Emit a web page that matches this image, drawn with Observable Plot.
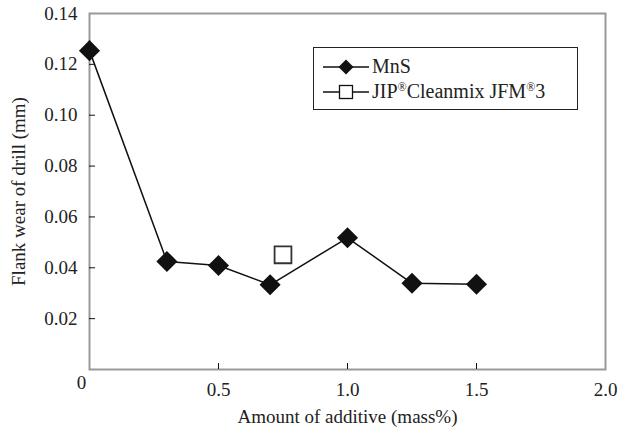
<!DOCTYPE html>
<html><head><meta charset="utf-8">
<script src="https://cdn.jsdelivr.net/npm/d3@7"></script>
<script src="https://cdn.jsdelivr.net/npm/@observablehq/plot@0.6"></script>
<style>
body{margin:0;background:#fff;font-family:'Liberation Serif','Times New Roman',Times,serif;}
#wrap{position:relative;width:620px;height:434px;}
#legend{position:absolute;left:313px;top:47px;width:265px;height:63px;border:1px solid #222;box-sizing:border-box;background:#fff;font-size:20px;color:#222;font-family:'Liberation Serif','Times New Roman',Times,serif;}
.row{position:absolute;left:9px;display:flex;align-items:center;}
.row span{margin-left:3px;white-space:nowrap;}
sup{font-size:12px;vertical-align:0;position:relative;top:-7px;}
</style></head>
<body><div id="wrap"><div id="chart"></div>
<div id="legend">
 <div class="row" style="top:7px"><svg width="46" height="22"><line x1="0" y1="11" x2="46" y2="11" stroke="#111" stroke-width="1.5"/><path d="M23,3.5 L30.5,11 L23,18.5 L15.5,11Z" fill="#111"/></svg><span id="l1"></span></div>
 <div class="row" style="top:32px"><svg width="46" height="22"><line x1="0" y1="11" x2="46" y2="11" stroke="#111" stroke-width="1.5"/><rect x="16.5" y="4.5" width="13" height="13" fill="#fff" stroke="#111" stroke-width="1.3"/></svg><span id="l2"></span></div>
</div></div>
<script>
const mnsX = [0, 0.3, 0.5, 0.7, 1.0, 1.25, 1.5];
const mnsY = [0.1254, 0.0425, 0.0409, 0.0333, 0.0518, 0.0339, 0.0335];
const jipX = [0.75];
const jipY = [0.0451];
const yTicks = [0.02, 0.04, 0.06, 0.08, 0.10, 0.12, 0.14];
const yInnerTicks = [0.02, 0.04, 0.06, 0.08, 0.10, 0.12];
const xTicks = [0.5, 1.0, 1.5, 2.0];
const xInnerTicks = [0.5, 1.0, 1.5];
const xZero = [0];
const seriesNames = ["MnS", "JIP<sup>®</sup>Cleanmix JFM<sup>®</sup>3"];
const xLabel = "Amount of additive (mass%)";
const yLabel = "Flank wear of drill (mm)";

document.getElementById("l1").innerHTML = seriesNames[0];
document.getElementById("l2").innerHTML = seriesNames[1];

const mns = mnsX.map((x, i) => ({x, y: mnsY[i]}));
const jip = jipX.map((x, i) => ({x, y: jipY[i]}));
const FONT = "'Liberation Serif', 'Times New Roman', Times, serif";

const chart = Plot.plot({
  width: 620, height: 434,
  marginLeft: 89, marginRight: 15, marginTop: 13, marginBottom: 65,
  style: {fontFamily: FONT, fontSize: "19px", color: "#222", background: "#fff"},
  x: {domain: [0, 2]},
  y: {domain: [0, 0.14]},
  marks: [
    Plot.frame({stroke: "#999", strokeWidth: 2}),
    Plot.axisY(yTicks, {tickSize: 0, tickPadding: 12, tickFormat: d => d.toFixed(2), label: null, fontSize: 19, fontFamily: FONT}),
    Plot.axisY(yInnerTicks, {tickSize: -6, text: null, label: null, stroke: "#111"}),
    Plot.axisX(xTicks, {tickSize: 0, tickPadding: 13, tickFormat: d => d.toFixed(1), label: null, fontSize: 19, fontFamily: FONT}),
    Plot.axisX(xInnerTicks, {tickSize: -6, text: null, label: null, stroke: "#111"}),
    Plot.text(xZero, {x: d => d, frameAnchor: "bottom", dy: 19, dx: -8, text: d => String(d), fontSize: 19, fontFamily: FONT, fill: "#222"}),
    Plot.text([xLabel], {frameAnchor: "bottom", dy: 53, text: d => d, fontSize: 19, fontFamily: FONT, fill: "#222"}),
    Plot.text([yLabel], {frameAnchor: "left", textAnchor: "middle", dx: -71, rotate: -90, text: d => d, fontSize: 19, fontFamily: FONT, fill: "#222"}),
    Plot.line(mns, {x: "x", y: "y", stroke: "#111", strokeWidth: 1.5}),
    Plot.dot(mns, {x: "x", y: "y", symbol: "diamond2", r: 9.5, fill: "#111", stroke: "none"}),
    Plot.dot(jip, {x: "x", y: "y", symbol: "square", r: 9.5, fill: "#fff", stroke: "#333", strokeWidth: 1.8})
  ]
});
document.getElementById("chart").appendChild(chart);
</script>
</body></html>
